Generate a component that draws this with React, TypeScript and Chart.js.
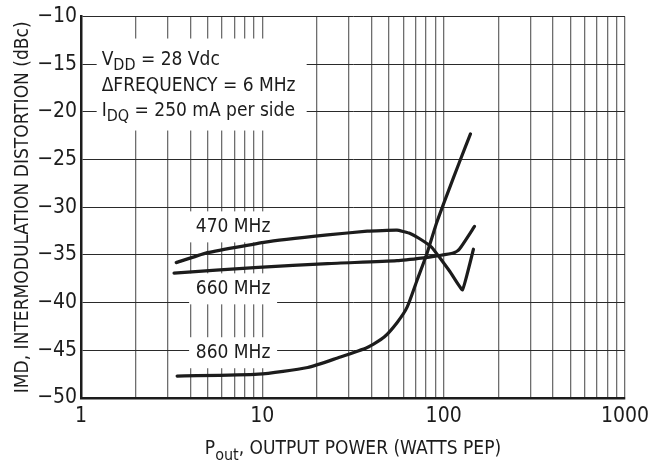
import React, { useEffect, useRef } from "react";
import { Chart, registerables } from "chart.js";

Chart.register(...registerables);

const xTickValues = [1, 2, 3, 4, 5, 6, 7, 8, 9, 10, 20, 30, 40, 50, 60, 70, 80, 90, 100, 200, 300, 400, 500, 600, 700, 800, 900, 1000];
const xLabelValues = [1, 10, 100, 1000];

const x470 = [3.35, 4.88, 10.4, 22.9, 37.9, 55.3, 64.4, 73.8, 86, 95.3, 108, 127, 146];
const y470 = [-35.8, -34.8, -33.65, -32.9, -32.5, -32.4, -32.7, -33.3, -34.2, -35.3, -36.7, -38.65, -34.4];

const x660 = [3.26, 9.5, 22.9, 55.3, 77.5, 91.6, 113, 122, 148];
const y660 = [-36.9, -36.3, -35.9, -35.6, -35.3, -35.1, -34.8, -34.4, -32.0];

const x860 = [3.39, 9.5, 17.8, 26.0, 37.9, 47, 55.3, 62.8, 71.2, 80.7, 91.6, 103.8, 122, 140.6];
const y860 = [-47.7, -47.5, -46.8, -45.8, -44.7, -43.6, -42.1, -40.5, -37.7, -34.9, -31.6, -28.8, -25.3, -22.3];

const FONT = '"Liberation Sans Narrow", "DejaVu Sans Condensed", "Arial Narrow", sans-serif';
const INK = "#1c1c1c";

type Part = [string, boolean];

function drawRich(ctx: CanvasRenderingContext2D, parts: Part[], x: number, y: number, size: number, align: "left" | "center") {
  const subSize = Math.round(size * 0.85);
  let total = 0;
  for (const [t, sub] of parts) {
    ctx.font = `${sub ? subSize : size}px ${FONT}`;
    total += ctx.measureText(t).width;
  }
  let cx = align === "center" ? x - total / 2 : x;
  ctx.textAlign = "left";
  ctx.textBaseline = "alphabetic";
  for (const [t, sub] of parts) {
    ctx.font = `${sub ? subSize : size}px ${FONT}`;
    ctx.fillText(t, cx, sub ? y + size * 0.3 : y);
    cx += ctx.measureText(t).width;
  }
}

const textPlugin = {
  id: "textPlugin",
  beforeDatasetsDraw(chart: any) {
    const ctx: CanvasRenderingContext2D = chart.ctx;
    const xs = chart.scales.x;
    const ys = chart.scales.y;
    ctx.save();
    ctx.fillStyle = "#ffffff";
    // annotation box
    const ax = xs.getPixelForValue(1.22);
    const ay = ys.getPixelForValue(-12.3);
    ctx.fillRect(ax, ay, 210, 92);
    // frequency label boxes
    const labels: [string, number, number][] = [
      ["470 MHz", 6.9, -32.0],
      ["660 MHz", 6.9, -38.5],
      ["860 MHz", 6.9, -45.2],
    ];
    for (const [, lx, ly] of labels) {
      const px = xs.getPixelForValue(lx);
      const py = ys.getPixelForValue(ly);
      ctx.fillStyle = "#ffffff";
      ctx.fillRect(px - 44, py - 15, 88, 31);
    }
    ctx.fillStyle = INK;
    for (const [t, lx, ly] of labels) {
      const px = xs.getPixelForValue(lx);
      const py = ys.getPixelForValue(ly);
      ctx.font = `19px ${FONT}`;
      ctx.textAlign = "center";
      ctx.textBaseline = "middle";
      ctx.fillText(t, px, py + 1);
    }
    const tx = ax + 5;
    drawRich(ctx, [["V", false], ["DD", true], [" = 28 Vdc", false]], tx, ay + 26, 19, "left");
    drawRich(ctx, [["\u0394FREQUENCY = 6 MHz", false]], tx, ay + 52, 19, "left");
    drawRich(ctx, [["I", false], ["DQ", true], [" = 250 mA per side", false]], tx, ay + 77, 19, "left");
    ctx.restore();
  },
  afterDraw(chart: any) {
    const ctx: CanvasRenderingContext2D = chart.ctx;
    const area = chart.chartArea;
    ctx.save();
    ctx.fillStyle = INK;
    drawRich(ctx, [["P", false], ["out", true], [", OUTPUT POWER (WATTS PEP)", false]], (area.left + area.right) / 2, 454, 19, "center");
    ctx.translate(28, (area.top + area.bottom) / 2);
    ctx.rotate(-Math.PI / 2);
    drawRich(ctx, [["IMD, INTERMODULATION DISTORTION (dBc)", false]], 0, 0, 19, "center");
    ctx.restore();
  },
};

export default function App() {
  const ref = useRef<HTMLCanvasElement | null>(null);
  useEffect(() => {
    document.body.style.margin = "0";
    const mk = (xs: number[], ys: number[]) => xs.map((x, i) => ({ x, y: ys[i] }));
    const ds = (label: string, data: any, tension: number) => ({
      label,
      data,
      borderColor: INK,
      borderWidth: 3.2,
      pointRadius: 0,
      fill: false,
      tension,
      borderJoinStyle: "round" as const,
      borderCapStyle: "round" as const,
    });
    const chart = new Chart(ref.current!, {
      type: "line",
      data: {
        datasets: [
          ds("470 MHz", mk(x470, y470), 0.1),
          ds("660 MHz", mk(x660, y660), 0.2),
          ds("860 MHz", mk(x860, y860), 0.2),
        ],
      },
      options: {
        animation: false,
        responsive: true,
        maintainAspectRatio: false,
        layout: { padding: { top: 14, right: 25, left: 0, bottom: 0 } },
        plugins: { legend: { display: false }, tooltip: { enabled: false } },
        scales: {
          x: {
            type: "logarithmic",
            min: 1,
            max: 1000,
            afterBuildTicks: (s: any) => {
              s.ticks = xTickValues.map((v) => ({ value: v }));
            },
            afterFit: (s: any) => {
              s.height = 65;
            },
            ticks: {
              autoSkip: false,
              maxRotation: 0,
              color: INK,
              padding: 6,
              font: { family: FONT, size: 21 },
              callback: (v: any) => (xLabelValues.includes(Number(v)) ? String(v) : ""),
            },
            grid: { color: "#6e6e6e", lineWidth: 1.3, drawTicks: false },
            border: { color: INK, width: 2.5 },
          },
          y: {
            min: -50,
            max: -10,
            afterBuildTicks: (s: any) => {
              const t = [];
              for (let v = -50; v <= -10; v += 5) t.push({ value: v });
              s.ticks = t;
            },
            afterFit: (s: any) => {
              s.width = 81;
            },
            ticks: {
              color: INK,
              padding: 4,
              font: { family: FONT, size: 21 },
              callback: (v: any) => "\u2212" + Math.abs(Number(v)),
            },
            grid: { color: "#2a2a2a", lineWidth: 1, drawTicks: false },
            border: { color: INK, width: 2.5 },
          },
        },
      },
      plugins: [textPlugin],
    });
    return () => chart.destroy();
  }, []);
  return (
    <div style={{ width: 655, height: 463, position: "relative" }}>
      <canvas ref={ref} />
    </div>
  );
}
